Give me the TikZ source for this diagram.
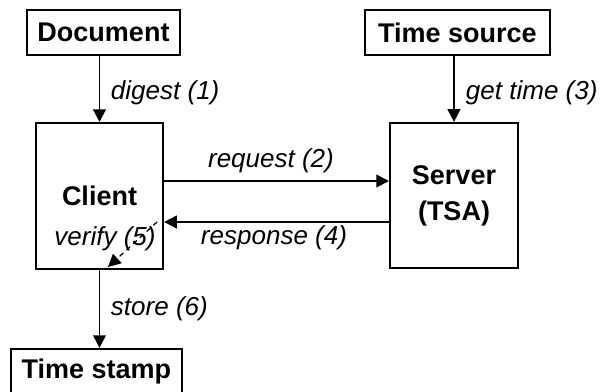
\documentclass[tikz,border=0pt]{standalone}
\usepackage{fontspec}
\setmainfont{Liberation Sans}
\usetikzlibrary{arrows.meta}
\tikzstyle{block}=[draw,line width=1.4pt,inner sep=0pt,align=center,font=\fontsize{19.2}{25.5}\selectfont\bfseries]
\tikzstyle{lbl}=[inner sep=0pt,font=\fontsize{18.5}{22}\selectfont\itshape]

\begin{document}
\begin{tikzpicture}[->,>={Triangle[length=9pt,width=9pt]},x=0.025cm,y=-0.025cm,line width=1.4pt]
\useasboundingbox (0,0) rectangle (600,391);
% boxes
\node [block,minimum width=3.83cm,minimum height=1.13cm] (doc) at (103.5,32.5) {Document};
\node [block,minimum width=4.63cm,minimum height=1.13cm] (src) at (457.5,32.5) {Time source};
\node [block,minimum width=3.18cm,minimum height=3.65cm] (client) at (99.5,196) {Client};
\node [block,minimum width=3.2cm,minimum height=3.63cm] (srv) at (454,195.5) {Server\\(TSA)};
\node [block,minimum width=4.28cm,minimum height=1.13cm] (stamp) at (96.5,371.5) {Time stamp};
% connectors
\draw (doc.south -| client.north) -- (client.north);
\draw (src.south -| srv.north) -- (srv.north);
\draw (client.east |- 0,181) -- (srv.west |- 0,181);
\draw (srv.west |- 0,222) -- (client.east |- 0,222);
\coordinate (vfrom) at (157,222);
\coordinate (vto) at (108,267);
\draw [dashed,line width=0.9pt,dash pattern=on 3.5pt off 3pt] (vfrom) -- (vto);
\draw (client.south) -- (client.south |- stamp.north);
% labels
\node [lbl,anchor=west] (l1) at (110,93) {digest (1)};
\node [lbl] (l2) at (271,161) {request (2)};
\node [lbl,anchor=west] (l3) at (465,93) {get time (3)};
\node [lbl] (l4) at (274,238) {response (4)};
\node [lbl] (l5) at (105,239) {verify (5)};
\node [lbl,anchor=west] (l6) at (110,309) {store (6)};
\end{tikzpicture}
\end{document}
